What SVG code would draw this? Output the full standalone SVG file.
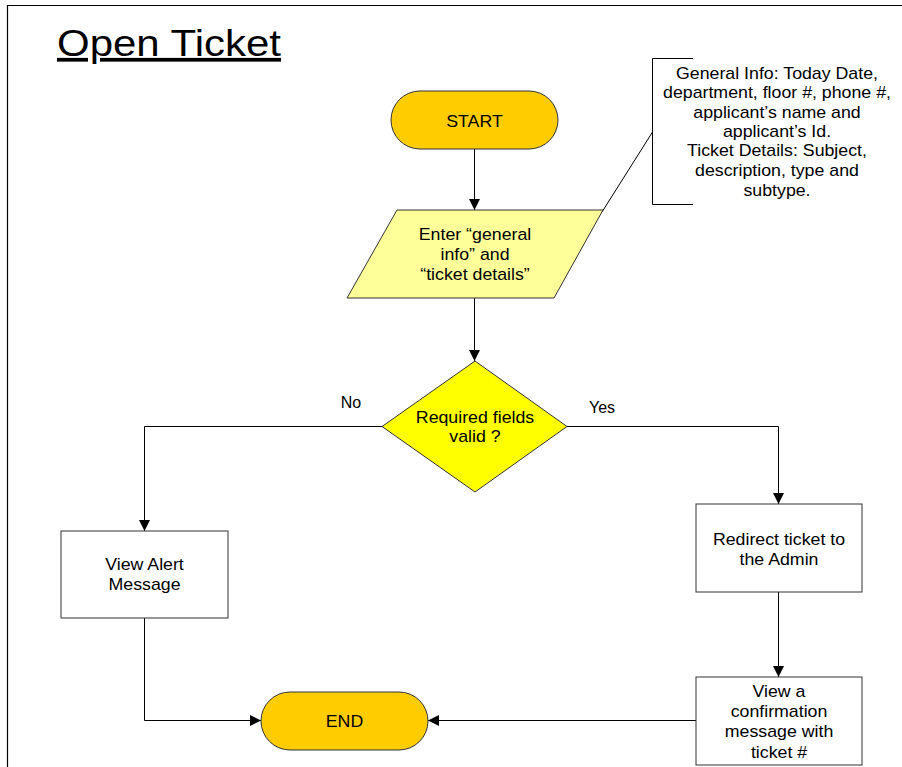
<svg xmlns="http://www.w3.org/2000/svg" width="902" height="767" viewBox="0 0 902 767">
  <defs>
    <marker id="arrow" viewBox="0 0 10 10" refX="10" refY="5" markerWidth="11" markerHeight="11" markerUnits="userSpaceOnUse" orient="auto">
      <path d="M0,0 L10,5 L0,10 Z" fill="#000"/>
    </marker>
  </defs>
  <style>
    .frame { fill: none; stroke: #000; stroke-width: 1.2; }
    .term { fill: #FFCC00; stroke: #333; stroke-width: 1; }
    .io { fill: #FFFF99; stroke: #333; stroke-width: 1; }
    .dec { fill: #FFFF00; stroke: #333; stroke-width: 1; }
    .proc { fill: #FFFFFF; stroke: #333; stroke-width: 1; }
    .edge { fill: none; stroke: #000; stroke-width: 1; }
    .note { fill: none; stroke: #000; stroke-width: 1; }
    text { font-family: "Liberation Sans", Arial, sans-serif; font-size: 16px; fill: #000; text-anchor: middle; }
    .title { font-size: 37.5px; text-anchor: start; text-decoration: underline; }
  </style>

  <rect width="902" height="767" fill="#fff"/>
  <!-- page frame: left and top edges -->
  <path class="frame" d="M7.5,767 V5.5 H902"/>

  <g id="title" transform="translate(57,56) scale(1.12,1)">
    <text class="title" x="0" y="0">Open Ticket</text>
  </g>

  <!-- connectors -->
  <g id="connectors">
    <path class="edge" d="M474.5,149 V210" marker-end="url(#arrow)"/>
    <path class="edge" d="M474.5,298 V361" marker-end="url(#arrow)"/>
    <path class="edge" d="M382,426.5 H144.5 V531" marker-end="url(#arrow)"/>
    <path class="edge" d="M567,426.5 H778.5 V504" marker-end="url(#arrow)"/>
    <path class="edge" d="M778.5,592 V677" marker-end="url(#arrow)"/>
    <path class="edge" d="M144.5,618 V720.5 H261" marker-end="url(#arrow)"/>
    <path class="edge" d="M696,720.5 H428" marker-end="url(#arrow)"/>
    <text x="351" y="408">No</text>
    <text x="602" y="413">Yes</text>
  </g>

  <!-- annotation bracket with leader -->
  <g id="note">
    <path class="note" d="M693,58.5 H652.5 V204.5 H693"/>
    <path class="note" d="M652.5,132 L602,212"/>
    <g transform="translate(777,0) scale(1.11,1)">
      <text x="0" y="79">General Info: Today Date,</text>
      <text x="0" y="98">department, floor #, phone #,</text>
      <text x="0" y="118">applicant’s name and</text>
      <text x="0" y="137">applicant’s Id.</text>
      <text x="0" y="156">Ticket Details: Subject,</text>
      <text x="0" y="176">description, type and</text>
      <text x="0" y="196">subtype.</text>
    </g>
  </g>

  <g id="start">
    <rect class="term" x="391" y="91" width="167" height="58" rx="29" ry="29"/>
    <g transform="translate(474.5,0) scale(1.11,1)"><text x="0" y="127">START</text></g>
  </g>

  <g id="input">
    <polygon class="io" points="397,210 603,210 554,298 347,298"/>
    <g transform="translate(475,0) scale(1.11,1)">
      <text x="0" y="240">Enter “general</text>
      <text x="0" y="260">info” and</text>
      <text x="0" y="280">“ticket details”</text>
    </g>
  </g>

  <g id="decision">
    <polygon class="dec" points="475,361 567,426.5 475,492 382,426.5"/>
    <g transform="translate(475,0) scale(1.11,1)">
      <text x="0" y="423">Required fields</text>
      <text x="0" y="442">valid ?</text>
    </g>
  </g>

  <g id="alert">
    <rect class="proc" x="61" y="531" width="167" height="87"/>
    <g transform="translate(144.5,0) scale(1.11,1)">
      <text x="0" y="570">View Alert</text>
      <text x="0" y="590">Message</text>
    </g>
  </g>

  <g id="redirect">
    <rect class="proc" x="696" y="504" width="166" height="88"/>
    <g transform="translate(779,0) scale(1.11,1)">
      <text x="0" y="545">Redirect ticket to</text>
      <text x="0" y="565">the Admin</text>
    </g>
  </g>

  <g id="confirm">
    <rect class="proc" x="696" y="677" width="166" height="88"/>
    <g transform="translate(779,0) scale(1.11,1)">
      <text x="0" y="697">View a</text>
      <text x="0" y="717">confirmation</text>
      <text x="0" y="737">message with</text>
      <text x="0" y="758">ticket #</text>
    </g>
  </g>

  <g id="end">
    <rect class="term" x="261" y="692" width="167" height="58" rx="29" ry="29"/>
    <g transform="translate(344.5,0) scale(1.11,1)"><text x="0" y="727">END</text></g>
  </g>
</svg>
